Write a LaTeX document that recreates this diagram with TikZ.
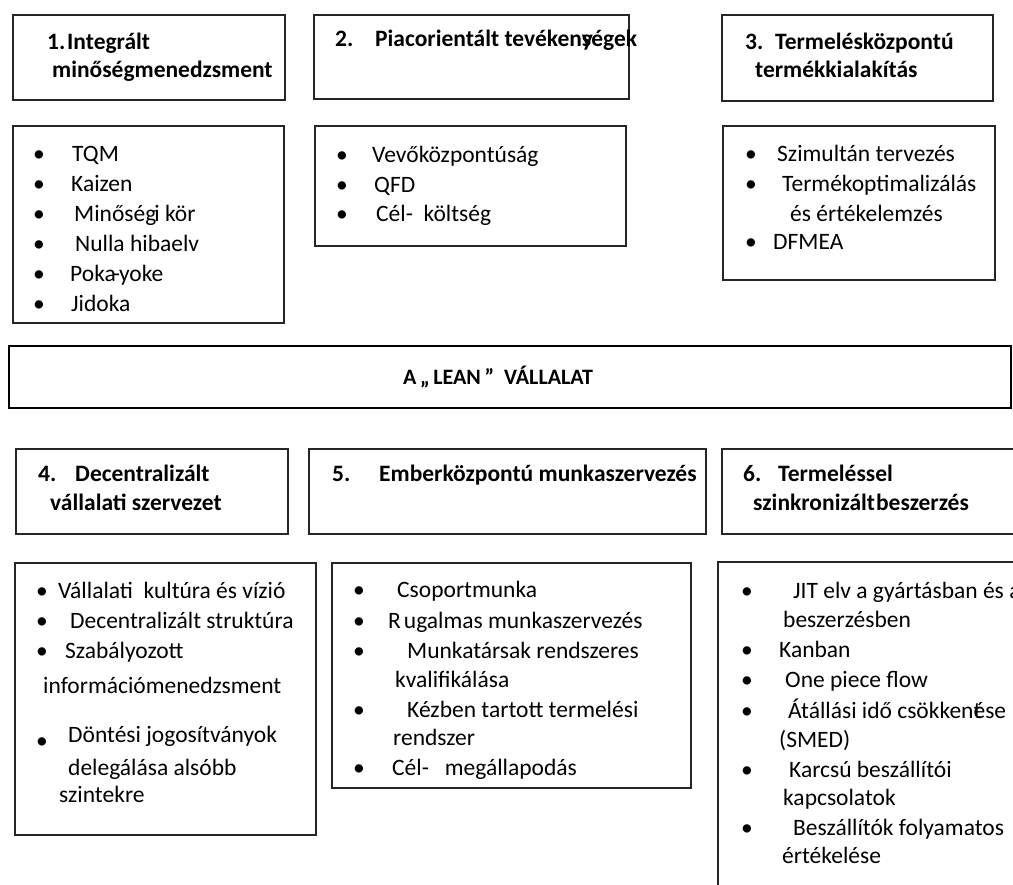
\documentclass[tikz,border=0pt]{standalone}
\usepackage{fontspec}
\setmainfont{Carlito}
\begin{document}
\begin{tikzpicture}[x=1pt,y=-1pt,
  box/.style={draw=black!85, line width=1.3pt, anchor=north west, inner sep=0pt, outer sep=0pt},
  bigbox/.style={box, line width=2.4pt, draw=black},
  txt/.style={anchor=base west, inner sep=0pt, font=\fontsize{23.5}{28}\selectfont},
  hd/.style={anchor=base west, inner sep=0pt, font=\fontsize{23.5}{28}\selectfont\bfseries},
  bul/.style={anchor=base, inner sep=0pt, font=\fontsize{23.5}{28}\selectfont}]
\useasboundingbox (0,0) rectangle (1013,885);
\clip (0,0) rectangle (1013,885);
% ---------- top row boxes
\node[box, minimum width=272pt, minimum height=85pt] (h1) at (13,15) {};
\node[box, minimum width=315pt, minimum height=84pt] (h2) at (314,15) {};
\node[box, minimum width=271pt, minimum height=86pt] (h3) at (722,15) {};
\node[box, minimum width=271pt, minimum height=197pt] (l1) at (13,126) {};
\node[box, minimum width=311pt, minimum height=120pt] (l2) at (315,126) {};
\node[box, minimum width=272pt, minimum height=154pt] (l3) at (723,126) {};
% ---------- middle
\node[bigbox, minimum width=1002pt, minimum height=62pt] (lean) at (9,346) {};
\node[anchor=base, inner sep=0pt, font=\fontsize{22}{26}\selectfont\bfseries] (leant) at (498,385) {A\,„\,LEAN\,”\ \ VÁLLALAT};
% ---------- bottom row boxes
\node[box, minimum width=272pt, minimum height=85pt] (h4) at (16,449) {};
\node[box, minimum width=397pt, minimum height=85pt] (h5) at (309,449) {};
\node[box, minimum width=320pt, minimum height=85pt] (h6) at (722,449) {};
\node[box, minimum width=301pt, minimum height=272pt] (l4) at (15,563) {};
\node[box, minimum width=359pt, minimum height=225pt] (l5) at (332,563) {};
\node[box, minimum width=330pt, minimum height=340pt] (l6) at (718,562) {};
% ---------- headers
\node[hd] (h1a) at (47,50) {1.};
\node[hd] (h1b) at (67,50) {Integrált};
\node[hd] (h1c) at (52,78) {minőségmenedzsment};
\node[hd] (h2a) at (335,47) {2.};
\node[hd] (h2b) at (375,47) {Piacorientált tevéken\makebox[0pt][l]{y}ségek};
\node[hd] (h3a) at (745,50) {3.};
\node[hd] (h3b) at (775,50) {Termelésközpontú};
\node[hd] (h3c) at (755,78) {termékkialakítás};
\node[hd] (h4a) at (38,482) {4.};
\node[hd] (h4b) at (75,482) {Decentralizált};
\node[hd] (h4c) at (50,510) {vállalati szervezet};
\node[hd] (h5a) at (332,482) {5.};
\node[hd] (h5b) at (379,482) {Emberközpontú munkaszervezés};
\node[hd] (h6a) at (743,482) {6.};
\node[hd] (h6b) at (778,482) {Termeléssel};
\node[hd] (h6c) at (753,510) {szinkronizált\kern1pt beszerzés};
% ---------- list 1
\foreach \y [count=\i] in {162,192,222,252,282,312} \node[bul] (b1\i) at (39,\y) {•};
\node[txt] (t1a) at (72,162) {TQM};
\node[txt] (t1b) at (71,192) {Kaizen};
\node[txt] (t1c) at (74,222) {Minőség\kern-2pt i kör};
\node[txt] (t1d) at (75,252) {Nulla hibaelv};
\node[txt] (t1e) at (70,282) {Poka\kern-3pt-\kern-1pt yoke};
\node[txt] (t1f) at (71,312) {Jidoka};
% ---------- list 2
\foreach \y [count=\i] in {163,193,222} \node[bul] (b2\i) at (342,\y) {•};
\node[txt] (t2a) at (372,163) {Vevőközpontúság};
\node[txt] (t2b) at (374,193) {QFD};
\node[txt] (t2c) at (376,222) {Cél-\ \ költség};
% ---------- list 3
\foreach \y [count=\i] in {162,192,250} \node[bul] (b3\i) at (751,\y) {•};
\node[txt] (t3a) at (777,162) {Szimultán tervezés};
\node[txt] (t3b) at (782,192) {Termékoptimalizálás};
\node[txt] (t3c) at (790,222) {és értékelemzés};
\node[txt] (t3d) at (773,250) {DFMEA};
% ---------- list 4
\foreach \y [count=\i] in {598,628,658,748} \node[bul] (b4\i) at (42,\y) {•};
\node[txt] (t4a) at (58,598) {Vállalati\ \ kultúra és vízió};
\node[txt] (t4b) at (70,628) {Decentralizált struktúra};
\node[txt] (t4c) at (65,658) {Szabályozott};
\node[txt] (t4d) at (43,693) {információmenedzsment};
\node[txt] (t4e) at (68,742) {Döntési jogosítványok};
\node[txt] (t4f) at (68,775) {delegálása alsóbb};
\node[txt] (t4g) at (59,802) {szintekre};
% ---------- list 5
\foreach \y [count=\i] in {597,628,658,717,775} \node[bul] (b5\i) at (359,\y) {•};
\node[txt] (t5a) at (397,597) {Csoportmunka};
\node[txt] (t5b) at (388,628) {R\kern3pt ugalmas munkaszervezés};
\node[txt] (t5c) at (407,658) {Munkatársak rendszeres};
\node[txt] (t5d) at (395,687) {kvalifikálása};
\node[txt] (t5e) at (407,717) {Kézben tartott termelési};
\node[txt] (t5f) at (393,745) {rendszer};
\node[txt] (t5g) at (392,775) {Cél-\ \ \ megállapodás};
% ---------- list 6
\foreach \y [count=\i] in {598,657,687,718,777,835} \node[bul] (b6\i) at (747,\y) {•};
\node[txt] (t6a) at (793,598) {JIT elv a gyártásban és a};
\node[txt] (t6b) at (783,627) {beszerzésben};
\node[txt] (t6c) at (779,657) {Kanban};
\node[txt] (t6d) at (785,687) {One piece flow};
\node[txt] (t6e) at (788,718) {Átállási idő csökken\makebox[0pt][l]{t}ése};
\node[txt] (t6f) at (779,747) {(SMED)};
\node[txt] (t6g) at (789,777) {Karcsú beszállítói};
\node[txt] (t6h) at (783,805) {kapcsolatok};
\node[txt] (t6i) at (793,835) {Beszállítók folyamatos};
\node[txt] (t6j) at (782,863) {értékelése};
\end{tikzpicture}
\end{document}
